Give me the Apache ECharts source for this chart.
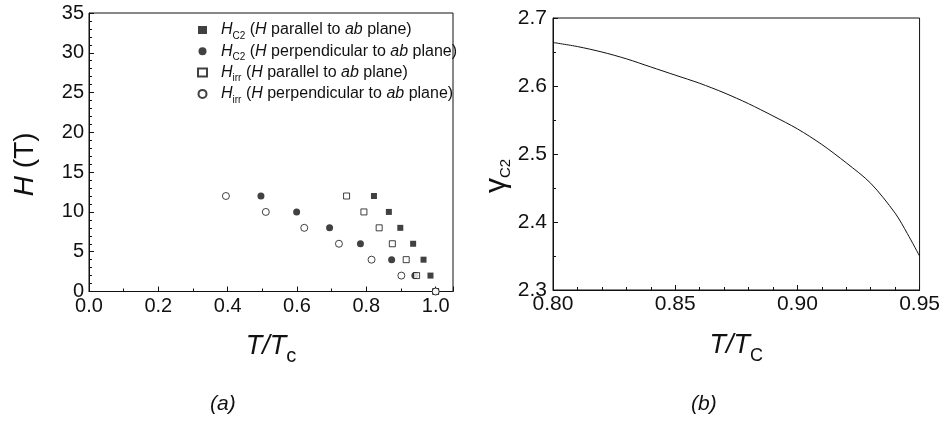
<!DOCTYPE html>
<html>
<head>
<meta charset="utf-8">
<script src="https://cdn.jsdelivr.net/npm/echarts@6/dist/echarts.min.js"></script>
<style>
  html, body { margin: 0; padding: 0; background: #fff; }
  #chart { width: 943px; height: 421px; }
</style>
</head>
<body>
<div id="chart"></div>
<script>
// Panel (a): upper critical field and irreversibility field vs reduced temperature
const hc2Parallel = [[0.822, 12], [0.865, 10], [0.898, 8], [0.935, 6], [0.965, 4], [0.985, 2], [1.0, 0]];
const hc2Perpendicular = [[0.496, 12], [0.599, 10], [0.694, 8], [0.783, 6], [0.873, 4], [0.94, 2], [1.0, 0]];
const hirrParallel = [[0.743, 12], [0.793, 10], [0.837, 8], [0.875, 6], [0.915, 4], [0.945, 2], [1.0, 0]];
const hirrPerpendicular = [[0.395, 12], [0.510, 10], [0.621, 8], [0.721, 6], [0.815, 4], [0.901, 2], [1.0, 0]];

// Panel (b): anisotropy of Hc2 vs reduced temperature
const gammaT = [0.80, 0.81, 0.82, 0.83, 0.84, 0.85, 0.86, 0.87, 0.88, 0.89, 0.90, 0.91, 0.92, 0.93, 0.94, 0.945, 0.95];
const gammaC2 = [2.664, 2.658, 2.650, 2.640, 2.628, 2.616, 2.604, 2.590, 2.574, 2.556, 2.537, 2.514, 2.487, 2.457, 2.413, 2.383, 2.350];

const seriesNames = ['Hc2 par', 'Hc2 perp', 'Hirr par', 'Hirr perp'];
const legendLabels = {
  'Hc2 par': '{g| }{i|H}{s|C2}{n| (}{i|H}{n| parallel to }{i|ab}{n| plane)}',
  'Hc2 perp': '{g| }{i|H}{s|C2}{n| (}{i|H}{n| perpendicular to }{i|ab}{n| plane)}',
  'Hirr par': '{g| }{i|H}{s|irr}{n| (}{i|H}{n| parallel to }{i|ab}{n| plane)}',
  'Hirr perp': '{g| }{i|H}{s|irr}{n| (}{i|H}{n| perpendicular to }{i|ab}{n| plane)}'
};

const FONT = 'Liberation Sans, Arial, Helvetica, sans-serif';
const INK = '#111';

const chart = echarts.init(document.getElementById('chart'), null, { renderer: 'canvas' });

function frameAxis(extra) {
  return Object.assign({
    type: 'value',
    axisLine: { show: true, onZero: false, lineStyle: { color: INK, width: 1 } },
    axisTick: { show: true, inside: true, length: 5, lineStyle: { color: INK } },
    splitLine: { show: false },
    nameLocation: 'middle'
  }, extra);
}

// subscript token: top-aligned and pushed down by its top padding
function sub(size, drop) {
  return { fontSize: size, lineHeight: 4, verticalAlign: 'top', padding: [drop, 0, 0, 0], color: INK, fontFamily: FONT };
}

const option = {
  backgroundColor: '#fff',
  animation: false,
  textStyle: { fontFamily: FONT, color: INK },
  grid: [
    { left: 89, top: 13, width: 364, height: 278.5, show: true, borderColor: INK, borderWidth: 1, backgroundColor: 'transparent' },
    { left: 553, top: 18, width: 369.5, height: 272, show: true, borderColor: INK, borderWidth: 1, backgroundColor: 'transparent' }
  ],
  xAxis: [
    frameAxis({
      gridIndex: 0, min: 0, max: 1.05, interval: 0.2,
      minorTick: { show: true, splitNumber: 2, length: 3, lineStyle: { color: INK } },
      axisLabel: { fontSize: 20, color: INK, margin: 5, showMaxLabel: false, formatter: v => v.toFixed(1) },
      name: '{i|T/T}{s|c}', nameGap: 40,
      nameTextStyle: {
        rich: {
          i: { fontSize: 27, fontStyle: 'italic', lineHeight: 30, verticalAlign: 'middle', color: INK, fontFamily: FONT },
          s: sub(20, 15)
        }
      }
    }),
    frameAxis({
      gridIndex: 1, min: 0.8, max: 0.95, interval: 0.05,
      minorTick: { show: true, splitNumber: 5, length: 3, lineStyle: { color: INK } },
      axisLabel: { fontSize: 21, color: INK, margin: 4, formatter: v => v.toFixed(2) },
      name: '{i|T/T}{s|C}', nameGap: 40,
      nameTextStyle: {
        rich: {
          i: { fontSize: 27, fontStyle: 'italic', lineHeight: 30, verticalAlign: 'middle', color: INK, fontFamily: FONT },
          s: sub(18, 17)
        }
      }
    })
  ],
  yAxis: [
    frameAxis({
      gridIndex: 0, min: 0, max: 35, interval: 5,
      minorTick: { show: true, splitNumber: 5, length: 3, lineStyle: { color: INK } },
      axisLabel: { fontSize: 20, color: INK, margin: 5 },
      name: '{i|H}{n| (T)}', nameGap: 50,
      nameTextStyle: {
        padding: [0, 24, 0, 0],
        rich: {
          i: { fontSize: 28, fontStyle: 'italic', color: INK, fontFamily: FONT },
          n: { fontSize: 28, color: INK, fontFamily: FONT }
        }
      }
    }),
    frameAxis({
      gridIndex: 1, min: 2.3, max: 2.7, interval: 0.1,
      minorTick: { show: true, splitNumber: 2, length: 3, lineStyle: { color: INK } },
      axisLabel: { fontSize: 21, color: INK, margin: 6, formatter: v => v.toFixed(1) },
      name: '{g|γ}{s|C2}', nameGap: 40,
      nameTextStyle: {
        padding: [0, 44, 0, 0],
        rich: {
          g: { fontSize: 30, lineHeight: 32, verticalAlign: 'middle', color: INK, fontFamily: FONT },
          s: sub(15, 17)
        }
      }
    })
  ],
  legend: {
    orient: 'vertical',
    left: 192, top: 17,
    itemWidth: 9, itemHeight: 8, itemGap: 2.3,
    data: seriesNames,
    formatter: name => legendLabels[name],
    textStyle: {
      rich: {
        g: { width: 9, fontSize: 16, lineHeight: 16 },
        n: { fontSize: 16, lineHeight: 16, verticalAlign: 'middle', color: INK, fontFamily: FONT },
        i: { fontSize: 16, lineHeight: 16, fontStyle: 'italic', verticalAlign: 'middle', color: INK, fontFamily: FONT },
        s: sub(10, 9)
      }
    }
  },
  graphic: [
    { type: 'text', left: 210, top: 394, style: { text: '(a)', font: 'italic 21px ' + FONT, fill: INK } },
    { type: 'text', left: 691, top: 394, style: { text: '(b)', font: 'italic 21px ' + FONT, fill: INK } }
  ],
  series: [
    {
      name: 'Hc2 par', type: 'scatter', xAxisIndex: 0, yAxisIndex: 0,
      symbol: 'rect', symbolSize: 6, data: hc2Parallel,
      itemStyle: { color: INK }
    },
    {
      name: 'Hc2 perp', type: 'scatter', xAxisIndex: 0, yAxisIndex: 0,
      symbol: 'circle', symbolSize: 7, data: hc2Perpendicular,
      itemStyle: { color: INK }
    },
    {
      name: 'Hirr par', type: 'scatter', xAxisIndex: 0, yAxisIndex: 0,
      symbol: 'rect', symbolSize: 6, data: hirrParallel,
      itemStyle: { color: '#fff', borderColor: INK, borderWidth: 1 }
    },
    {
      name: 'Hirr perp', type: 'scatter', xAxisIndex: 0, yAxisIndex: 0,
      symbol: 'circle', symbolSize: 7, data: hirrPerpendicular,
      itemStyle: { color: '#fff', borderColor: INK, borderWidth: 1 }
    },
    {
      name: 'gamma', type: 'line', xAxisIndex: 1, yAxisIndex: 1,
      data: gammaT.map((t, k) => [t, gammaC2[k]]),
      showSymbol: false, smooth: 0.3,
      lineStyle: { color: INK, width: 1 }
    }
  ]
};

chart.setOption(option);
</script>
</body>
</html>
